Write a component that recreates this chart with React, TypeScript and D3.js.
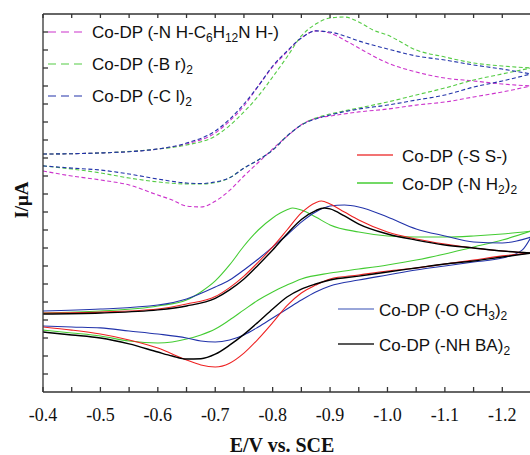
import React from 'react';
import * as d3 from 'd3';

type Pt = [number, number];

// cyclic voltammograms, E in V, I in arbitrary units (one y tick = 1)
const nhc6Fwd: Pt[] = [[-0.4, 13.22], [-0.5, 13.28], [-0.6, 13.5], [-0.65, 13.78], [-0.7, 14.39], [-0.725, 15.05], [-0.75, 15.89], [-0.775, 17.0], [-0.8, 18.06], [-0.825, 18.89], [-0.85, 19.67], [-0.875, 20.06], [-0.9, 19.94], [-0.925, 19.56], [-0.95, 19.11], [-1.0, 18.28], [-1.05, 17.78], [-1.1, 17.44], [-1.15, 17.28], [-1.2, 17.11], [-1.25, 17.0]];
const nhc6Rev: Pt[] = [[-1.25, 17.0], [-1.2, 16.67], [-1.15, 16.39], [-1.1, 16.11], [-1.05, 15.94], [-1.0, 15.72], [-0.95, 15.56], [-0.9, 15.33], [-0.875, 15.2], [-0.85, 14.85], [-0.825, 14.2], [-0.8, 13.5], [-0.775, 12.75], [-0.75, 12.0], [-0.725, 11.2], [-0.7, 10.6], [-0.675, 10.28], [-0.65, 10.33], [-0.625, 10.67], [-0.6, 10.94], [-0.55, 11.5], [-0.5, 11.78], [-0.45, 12.0], [-0.4, 12.28]];

const brFwd: Pt[] = [[-0.4, 13.22], [-0.5, 13.28], [-0.6, 13.5], [-0.65, 13.72], [-0.7, 14.22], [-0.725, 14.8], [-0.75, 15.56], [-0.775, 16.44], [-0.8, 17.5], [-0.825, 18.61], [-0.85, 19.78], [-0.875, 20.44], [-0.9, 20.78], [-0.925, 20.83], [-0.95, 20.56], [-0.975, 20.11], [-1.0, 19.83], [-1.05, 19.0], [-1.1, 18.61], [-1.15, 18.28], [-1.2, 18.11], [-1.25, 18.0]];
const brRev: Pt[] = [[-1.25, 18.0], [-1.2, 17.67], [-1.15, 17.33], [-1.1, 16.89], [-1.05, 16.5], [-1.0, 16.11], [-0.95, 15.78], [-0.9, 15.44], [-0.875, 15.22], [-0.85, 14.83], [-0.825, 14.22], [-0.8, 13.44], [-0.775, 12.89], [-0.75, 12.44], [-0.725, 11.9], [-0.7, 11.63], [-0.675, 11.56], [-0.65, 11.56], [-0.6, 11.67], [-0.55, 11.89], [-0.5, 12.17], [-0.45, 12.39], [-0.4, 12.56]];

const clFwd: Pt[] = [[-0.4, 13.22], [-0.5, 13.28], [-0.6, 13.5], [-0.65, 13.83], [-0.7, 14.5], [-0.725, 15.15], [-0.75, 16.0], [-0.775, 17.0], [-0.8, 18.11], [-0.825, 18.94], [-0.85, 19.67], [-0.875, 20.06], [-0.9, 20.0], [-0.925, 19.78], [-0.95, 19.5], [-1.0, 19.06], [-1.05, 18.67], [-1.1, 18.44], [-1.15, 18.17], [-1.2, 17.94], [-1.25, 17.67]];
const clRev: Pt[] = [[-1.25, 17.67], [-1.2, 17.28], [-1.15, 16.94], [-1.1, 16.5], [-1.05, 16.22], [-1.0, 15.94], [-0.95, 15.72], [-0.9, 15.39], [-0.875, 15.17], [-0.85, 14.83], [-0.825, 14.22], [-0.8, 13.44], [-0.775, 12.89], [-0.75, 12.44], [-0.725, 11.9], [-0.7, 11.67], [-0.675, 11.58], [-0.65, 11.61], [-0.6, 11.83], [-0.55, 12.11], [-0.5, 12.33], [-0.45, 12.44], [-0.4, 12.56]];

const ssFwd: Pt[] = [[-0.4, 4.39], [-0.5, 4.44], [-0.6, 4.61], [-0.65, 4.89], [-0.7, 5.3], [-0.725, 5.8], [-0.75, 6.44], [-0.775, 7.22], [-0.8, 8.06], [-0.825, 9.0], [-0.85, 9.95], [-0.875, 10.52], [-0.885, 10.61], [-0.9, 10.44], [-0.925, 10.0], [-0.95, 9.56], [-1.0, 8.89], [-1.05, 8.5], [-1.1, 8.22], [-1.15, 8.0], [-1.2, 7.83], [-1.25, 7.72]];
const ssRev: Pt[] = [[-1.25, 7.72], [-1.2, 7.56], [-1.15, 7.33], [-1.1, 7.11], [-1.05, 6.89], [-1.0, 6.72], [-0.95, 6.5], [-0.9, 6.28], [-0.875, 5.94], [-0.85, 5.5], [-0.825, 4.8], [-0.8, 3.85], [-0.775, 2.95], [-0.75, 2.16], [-0.725, 1.6], [-0.7, 1.39], [-0.675, 1.5], [-0.65, 1.78], [-0.6, 2.44], [-0.55, 2.89], [-0.5, 3.22], [-0.45, 3.44], [-0.4, 3.61]];

const nh2Fwd: Pt[] = [[-0.4, 4.39], [-0.5, 4.5], [-0.6, 4.78], [-0.65, 5.11], [-0.675, 5.56], [-0.7, 6.17], [-0.725, 7.06], [-0.75, 8.11], [-0.775, 9.0], [-0.8, 9.67], [-0.825, 10.12], [-0.835, 10.22], [-0.85, 10.11], [-0.875, 9.72], [-0.9, 9.28], [-0.95, 8.89], [-1.0, 8.67], [-1.05, 8.61], [-1.1, 8.61], [-1.15, 8.67], [-1.2, 8.78], [-1.25, 8.94]];
const nh2Rev: Pt[] = [[-1.25, 8.94], [-1.2, 8.44], [-1.15, 8.06], [-1.1, 7.67], [-1.05, 7.33], [-1.0, 7.06], [-0.95, 6.83], [-0.9, 6.61], [-0.85, 6.28], [-0.825, 5.94], [-0.8, 5.56], [-0.775, 5.11], [-0.75, 4.56], [-0.725, 4.0], [-0.7, 3.5], [-0.675, 3.17], [-0.65, 2.94], [-0.625, 2.78], [-0.6, 2.72], [-0.55, 2.83], [-0.5, 3.11], [-0.45, 3.28], [-0.4, 3.44]];

const och3Fwd: Pt[] = [[-0.4, 4.5], [-0.5, 4.61], [-0.6, 4.83], [-0.65, 5.17], [-0.7, 5.83], [-0.725, 6.22], [-0.75, 6.78], [-0.775, 7.39], [-0.8, 8.06], [-0.825, 8.72], [-0.85, 9.44], [-0.875, 10.0], [-0.9, 10.33], [-0.925, 10.39], [-0.95, 10.28], [-1.0, 9.72], [-1.05, 9.06], [-1.1, 8.67], [-1.15, 8.33], [-1.2, 8.28], [-1.225, 8.39], [-1.25, 8.61]];
const och3Rev: Pt[] = [[-1.25, 8.61], [-1.235, 7.9], [-1.2, 7.44], [-1.15, 7.22], [-1.1, 7.0], [-1.05, 6.78], [-1.0, 6.5], [-0.95, 6.22], [-0.9, 5.89], [-0.875, 5.56], [-0.85, 5.11], [-0.825, 4.61], [-0.8, 4.11], [-0.775, 3.61], [-0.75, 3.17], [-0.725, 2.89], [-0.7, 2.78], [-0.675, 2.83], [-0.65, 3.0], [-0.6, 3.22], [-0.55, 3.39], [-0.5, 3.56], [-0.45, 3.61], [-0.4, 3.67]];

const nhbaFwd: Pt[] = [[-0.4, 4.33], [-0.5, 4.39], [-0.6, 4.56], [-0.65, 4.78], [-0.7, 5.2], [-0.725, 5.67], [-0.75, 6.28], [-0.775, 7.06], [-0.8, 7.89], [-0.825, 8.78], [-0.85, 9.58], [-0.875, 10.08], [-0.89, 10.22], [-0.9, 10.17], [-0.925, 9.78], [-0.95, 9.33], [-1.0, 8.78], [-1.05, 8.44], [-1.1, 8.17], [-1.15, 8.0], [-1.2, 7.83], [-1.25, 7.72]];
const nhbaRev: Pt[] = [[-1.25, 7.72], [-1.2, 7.5], [-1.15, 7.28], [-1.1, 7.11], [-1.05, 6.89], [-1.0, 6.67], [-0.95, 6.44], [-0.9, 6.22], [-0.875, 6.0], [-0.85, 5.72], [-0.825, 5.28], [-0.8, 4.61], [-0.775, 3.89], [-0.75, 3.2], [-0.725, 2.6], [-0.7, 2.1], [-0.675, 1.85], [-0.65, 1.83], [-0.625, 2.0], [-0.6, 2.22], [-0.55, 2.67], [-0.5, 3.0], [-0.45, 3.17], [-0.4, 3.33]];

const xTicks = [-0.4, -0.5, -0.6, -0.7, -0.8, -0.9, -1.0, -1.1, -1.2];

const width = 530;
const height = 455;
const margin = { left: 43, top: 14, right: -1, bottom: 63 };

const series = [
  { key: 'nhc6', fwd: nhc6Fwd, rev: nhc6Rev, color: '#cc33cc', dash: '4,2.5' },
  { key: 'br', fwd: brFwd, rev: brRev, color: '#55cc44', dash: '4,2.5' },
  { key: 'cl', fwd: clFwd, rev: clRev, color: '#2233aa', dash: '4,2.5' },
  { key: 'nh2', fwd: nh2Fwd, rev: nh2Rev, color: '#44cc33', dash: null },
  { key: 'och3', fwd: och3Fwd, rev: och3Rev, color: '#2233aa', dash: null },
  { key: 'ss', fwd: ssFwd, rev: ssRev, color: '#ee2222', dash: null },
  { key: 'nhba', fwd: nhbaFwd, rev: nhbaRev, color: '#000000', dash: null },
];

const sans = '"Liberation Sans", Arial, Helvetica, sans-serif';
const serif = '"Liberation Serif", "Times New Roman", Times, serif';

const Sub = ({ children }: { children: string }) => (
  <tspan fontSize={12} dy={4}>{children}</tspan>
);

export default function App() {
  const x = d3.scaleLinear().domain([-0.4, -1.25]).range([margin.left, width - margin.right]);
  const y = d3.scaleLinear().domain([0, 21]).range([height - margin.bottom, margin.top]);
  // each branch drawn left-to-right on screen so monotoneX can be used
  const line = d3.line<Pt>()
    .x(d => x(d[0]))
    .y(d => y(d[1]))
    .curve(d3.curveMonotoneX);

  const x0 = margin.left;
  const x1 = width - margin.right;
  const y0 = height - margin.bottom;
  const y1 = margin.top;
  const minorX = d3.range(0, 18).map(i => -0.4 - i * 0.05);
  const yTicks = d3.range(1, 21);

  const legendDashed = [
    { color: '#cc33cc', y: 32, label: <>Co-DP (-N H-C<Sub>6</Sub><tspan dy={-4}>H</tspan><Sub>12</Sub><tspan dy={-4}>N H-)</tspan></> },
    { color: '#55cc44', y: 64, label: <>Co-DP (-B r)<Sub>2</Sub></> },
    { color: '#2233aa', y: 96, label: <>Co-DP (-C l)<Sub>2</Sub></> },
  ];
  const legendSolid = [
    { color: '#ee4444', y: 155, x: 357, label: <>Co-DP (-S S-)</> },
    { color: '#44cc33', y: 183, x: 357, label: <>Co-DP (-N H<Sub>2</Sub><tspan dy={-4}>)</tspan><Sub>2</Sub></> },
    { color: '#7788cc', y: 309, x: 338, label: <>Co-DP (-O CH<Sub>3</Sub><tspan dy={-4}>)</tspan><Sub>2</Sub></> },
    { color: '#222222', y: 344, x: 338, label: <>Co-DP (-NH BA)<Sub>2</Sub></> },
  ];

  return (
    <svg width={width} height={height} style={{ position: 'absolute', left: 0, top: 0, background: '#fff' }}>
      <defs>
        <clipPath id="plot">
          <rect x={x0} y={y1} width={x1 - x0} height={y0 - y1} />
        </clipPath>
      </defs>

      <g clipPath="url(#plot)" fill="none">
        {series.map(s => (
          <g key={s.key} stroke={s.color} strokeWidth={s.key === 'nhba' ? 1.4 : 1.1} strokeDasharray={s.dash || undefined}>
            <path d={line(s.fwd) || ''} />
            <path d={line([...s.rev].reverse()) || ''} />
          </g>
        ))}
      </g>

      {/* frame */}
      <g stroke="#333" strokeWidth={1.3} fill="none">
        <line x1={x0} x2={x1} y1={y0} y2={y0} />
        <line x1={x0} x2={x1} y1={y1} y2={y1} />
        <line x1={x0} x2={x0} y1={y1} y2={y0} />
        <line x1={x1} x2={x1} y1={y1} y2={y0} />
        {minorX.map(v => (
          <g key={v}>
            <line x1={x(v)} x2={x(v)} y1={y0} y2={y0 - 5} />
            <line x1={x(v)} x2={x(v)} y1={y1} y2={y1 + 4} />
          </g>
        ))}
        {yTicks.map(v => (
          <line key={v} x1={x0} x2={x0 + 5} y1={y(v)} y2={y(v)} />
        ))}
      </g>

      <g fontFamily={serif} fontSize={18} textAnchor="middle" fill="#111">
        {xTicks.map(v => (
          <text key={v} x={x(v)} y={421}>{v.toFixed(1)}</text>
        ))}
      </g>
      <text x={282} y={452} fontFamily={serif} fontSize={20} fontWeight="bold" textAnchor="middle" fill="#111">
        E/V vs. SCE
      </text>
      <text transform="translate(28,200) rotate(-90)" fontFamily={serif} fontSize={19} fontWeight="bold" textAnchor="middle" fill="#111">
        I/μA
      </text>

      <g fontFamily={sans} fontSize={17} fill="#111">
        {legendDashed.map(l => (
          <g key={l.y}>
            <line x1={48} x2={85} y1={l.y} y2={l.y} stroke={l.color} strokeWidth={1.1} strokeDasharray="8,5" />
            <text x={92} y={l.y + 6}>{l.label}</text>
          </g>
        ))}
        {legendSolid.map(l => (
          <g key={l.y}>
            <line x1={l.x} x2={l.x + 36} y1={l.y} y2={l.y} stroke={l.color} strokeWidth={1.3} />
            <text x={l.x + (l.x === 357 ? 45 : 41)} y={l.y + 7}>{l.label}</text>
          </g>
        ))}
      </g>
    </svg>
  );
}
